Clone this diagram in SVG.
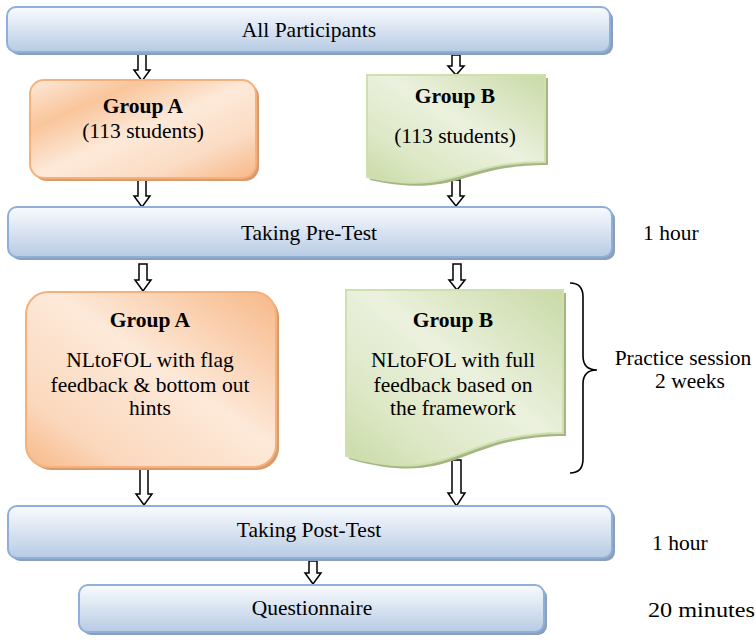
<svg xmlns="http://www.w3.org/2000/svg" width="756" height="640" viewBox="0 0 756 640">
<defs>
<linearGradient id="gBlue" x1="0" y1="0" x2="0" y2="1">
<stop offset="0" stop-color="#f9fbfe"/>
<stop offset="1" stop-color="#b7cbe4"/>
</linearGradient>
<linearGradient id="gOrange" x1="0" y1="0" x2="1" y2="1">
<stop offset="0" stop-color="#fde9d9"/>
<stop offset="0.25" stop-color="#f9c59b"/>
<stop offset="0.5" stop-color="#fde9d9"/>
<stop offset="0.75" stop-color="#fbdcc4"/>
<stop offset="1" stop-color="#f7b888"/>
</linearGradient>
<linearGradient id="gOrange2" x1="1" y1="0" x2="0" y2="1">
<stop offset="0" stop-color="#f7b888"/>
<stop offset="0.45" stop-color="#fde9d9"/>
<stop offset="0.8" stop-color="#fbd8bd"/>
<stop offset="1" stop-color="#f7b888"/>
</linearGradient>
<linearGradient id="gGreen" x1="1" y1="0" x2="0" y2="1">
<stop offset="0" stop-color="#c9daa6"/>
<stop offset="0.45" stop-color="#ebf1de"/>
<stop offset="0.75" stop-color="#dde8c6"/>
<stop offset="1" stop-color="#c9daa6"/>
</linearGradient>
<style>
.blue{fill:url(#gBlue);stroke:#8eaedb;stroke-width:2}
.bsh{fill:#8d9fb8}
.orange{stroke:#f5b07c;stroke-width:2}
.osh{fill:#d99a6c}
.green{fill:url(#gGreen);stroke:#cfe0ae;stroke-width:2}
.gsh{fill:#a4b683}
text{font-family:'Liberation Serif','Times New Roman',Times,'Noto Serif','DejaVu Serif',serif;font-size:21.5px;fill:#000}
.c{text-anchor:middle}
.b{font-weight:bold}
.arr{fill:#fff;stroke:#000;stroke-width:1.5;stroke-linejoin:miter}
.brace{fill:none;stroke:#000;stroke-width:1.6}
</style>
</defs>

<g id="connectors">
<path class="arr" d="M138,54 H146 V70 H150 L142,81 L134,70 H138 Z"/>
<path class="arr" d="M452,55 H460 V66 H464 L456,75 L448,66 H452 Z"/>
<path class="arr" d="M138,178 H146 V196 H150 L142,207 L134,196 H138 Z"/>
<path class="arr" d="M452,180 H460 V196 H464 L456,206 L448,196 H452 Z"/>
<path class="arr" d="M139,264 H147 V280 H151 L143,291 L135,280 H139 Z"/>
<path class="arr" d="M453,264 H461 V280 H465 L457,290 L449,280 H453 Z"/>
<path class="arr" d="M140,469 H148 V494 H152 L144,505 L136,494 H140 Z"/>
<path class="arr" d="M452,460 H461 V493 H465 L456.5,506 L448,493 H452 Z"/>
<path class="arr" d="M309,561 H317 V573 H321 L313,584 L305,573 H309 Z"/>
</g>

<g id="all-participants">
<rect class="bsh" x="10" y="10" width="603" height="45" rx="9"/>
<rect class="blue" x="7" y="7" width="603" height="45" rx="9"/>
<text class="c" x="309" y="37">All Participants</text>
</g>

<g id="group-a-1">
<rect class="osh" x="33" y="83" width="226" height="98" rx="14"/>
<rect class="orange" fill="url(#gOrange)" x="30" y="80" width="226" height="98" rx="14"/>
<text class="c b" x="143" y="113">Group A</text>
<text class="c" x="143" y="138">(113 students)</text>
</g>

<g id="group-b-1">
<path class="gsh" d="M370,78 H548 V165 C459,165 459,199 370,180 Z"/>
<path class="green" d="M367,75 H545 V162 C456,162 456,196 367,177 Z"/>
<text class="c b" x="455" y="103">Group B</text>
<text class="c" x="455" y="143">(113 students)</text>
</g>

<g id="pre-test">
<rect class="bsh" x="11" y="210" width="604" height="50" rx="9"/>
<rect class="blue" x="8" y="207" width="604" height="50" rx="9"/>
<text class="c" x="309" y="240">Taking Pre-Test</text>
</g>
<g id="label-pre">
<text x="643" y="240">1 hour</text>
</g>

<g id="group-a-2">
<rect class="osh" x="29" y="295" width="250" height="175" rx="22"/>
<rect class="orange" fill="url(#gOrange2)" x="26" y="292" width="250" height="175" rx="22"/>
<text class="c b" x="150" y="327">Group A</text>
<text class="c" x="150" y="367">NLtoFOL with flag</text>
<text class="c" x="150" y="392">feedback &amp; bottom out</text>
<text class="c" x="150" y="415">hints</text>
</g>

<g id="group-b-2">
<path class="gsh" d="M349,293 H566 V436 C457.5,436 457.5,490 349,459 Z"/>
<path class="green" d="M346,290 H563 V433 C454.5,433 454.5,487 346,456 Z"/>
<text class="c b" x="453" y="327">Group B</text>
<text class="c" x="453" y="367">NLtoFOL with full</text>
<text class="c" x="453" y="392">feedback based on</text>
<text class="c" x="453" y="415">the framework</text>
</g>

<g id="practice-brace">
<path class="brace" d="M570,283 Q583,283 583,297 V356 Q583,370 597,370 Q583,370 583,384 V459 Q583,473 570,473"/>
<text class="c" x="683" y="365">Practice session</text>
<text class="c" x="690" y="388">2 weeks</text>
</g>

<g id="post-test">
<rect class="bsh" x="11" y="509" width="604" height="52" rx="9"/>
<rect class="blue" x="8" y="506" width="604" height="52" rx="9"/>
<text class="c" x="309" y="537">Taking Post-Test</text>
</g>
<g id="label-post">
<text x="652" y="550">1 hour</text>
</g>

<g id="questionnaire">
<rect class="bsh" x="82" y="588" width="465" height="47" rx="9"/>
<rect class="blue" x="79" y="585" width="465" height="47" rx="9"/>
<text class="c" x="312" y="615">Questionnaire</text>
</g>
<g id="label-q">
<text x="648" y="617" textLength="107" lengthAdjust="spacingAndGlyphs">20 minutes</text>
</g>
</svg>
